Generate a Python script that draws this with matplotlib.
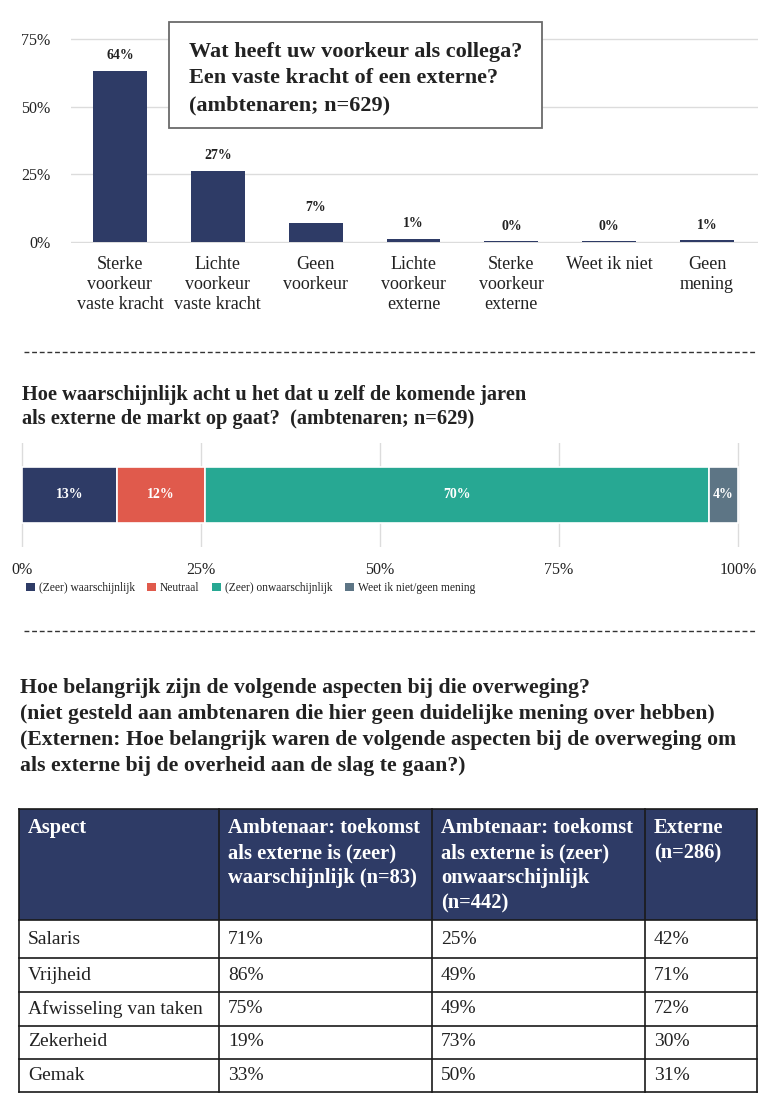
import matplotlib
matplotlib.use("Agg")
import matplotlib.pyplot as plt
from matplotlib.patches import Rectangle, Patch
from matplotlib.lines import Line2D

plt.rcParams['font.family'] = ['Liberation Serif', 'DejaVu Serif']

# ---------------- data ----------------
pref_categories = ["Sterke\nvoorkeur\nvaste kracht", "Lichte\nvoorkeur\nvaste kracht", "Geen\nvoorkeur",
                   "Lichte\nvoorkeur\nexterne", "Sterke\nvoorkeur\nexterne", "Weet ik niet", "Geen\nmening"]
pref_values = [63.3, 26.3, 7.1, 1.1, 0.2, 0.2, 0.6]
pref_labels = ["64%", "27%", "7%", "1%", "0%", "0%", "1%"]
pref_yticks = [0, 25, 50, 75]
pref_title = ["Wat heeft uw voorkeur als collega?", "Een vaste kracht of een externe?", "(ambtenaren; n=629)"]

likely_categories = ["(Zeer) waarschijnlijk", "Neutraal", "(Zeer) onwaarschijnlijk", "Weet ik niet/geen mening"]
likely_values = [13.2, 12.3, 70.4, 4.1]
likely_labels = ["13%", "12%", "70%", "4%"]
likely_xticks = [0, 25, 50, 75, 100]
likely_title = ["Hoe waarschijnlijk acht u het dat u zelf de komende jaren",
                "als externe de markt op gaat?  (ambtenaren; n=629)"]

aspect_title = ["Hoe belangrijk zijn de volgende aspecten bij die overweging?",
                "(niet gesteld aan ambtenaren die hier geen duidelijke mening over hebben)",
                "(Externen: Hoe belangrijk waren de volgende aspecten bij de overweging om",
                "als externe bij de overheid aan de slag te gaan?)"]
table_header = ["Aspect",
                "Ambtenaar: toekomst\nals externe is (zeer)\nwaarschijnlijk (n=83)",
                "Ambtenaar: toekomst\nals externe is (zeer)\nonwaarschijnlijk\n(n=442)",
                "Externe\n(n=286)"]
aspects = ["Salaris", "Vrijheid", "Afwisseling van taken", "Zekerheid", "Gemak"]
col_likely = ["71%", "86%", "75%", "19%", "33%"]
col_unlikely = ["25%", "49%", "49%", "73%", "50%"]
col_externe = ["42%", "71%", "72%", "30%", "31%"]

# ---------------- style ----------------
NAVY = "#2e3b66"
RED = "#e05a4c"
TEAL = "#27a893"
SLATE = "#5d7585"
GRID = "#dcdcdc"
TXT = "#222222"

W, H = 766, 1099
fig = plt.figure(figsize=(W / 100, H / 100), dpi=100)


def px_axes(x0, y0, x1, y1, **kw):
    return fig.add_axes([x0 / W, 1 - y1 / H, (x1 - x0) / W, (y1 - y0) / H], **kw)


def fx(x):
    return x / W


def fy(y):
    return 1 - y / H


# ---------------- chart 1 ----------------
ax1 = px_axes(71, 38, 758, 243)
x = list(range(len(pref_values)))
ax1.bar(x, pref_values, width=0.55, color=NAVY, zorder=3)
ax1.set_xlim(-0.5, 6.52)
ax1.set_ylim(-0.37, 75.37)
ax1.set_yticks(pref_yticks)
ax1.set_yticklabels([f"{t}%" for t in pref_yticks], fontsize=11.5, color=TXT)
ax1.set_xticks(x)
ax1.set_xticklabels(pref_categories, fontsize=13, color=TXT, linespacing=1.22)
ax1.tick_params(axis='y', length=0, pad=15)
ax1.tick_params(axis='x', length=0, pad=9.5)
ax1.yaxis.grid(True, color=GRID, lw=1)
ax1.set_axisbelow(True)
for s in ax1.spines.values():
    s.set_visible(False)
for xi, v, lab in zip(x, pref_values, pref_labels):
    ax1.annotate(lab, (xi, v), xytext=(0, 11), textcoords='offset points',
                 ha='center', va='center', fontsize=10, fontweight='bold', color=TXT)

# title box
fig.patches.append(Rectangle((fx(169), fy(128)), (542 - 169) / W, (128 - 22) / H,
                             transform=fig.transFigure, facecolor='white',
                             edgecolor='#6a6a6a', lw=1.3, zorder=5))
for yy, line in zip([52, 78, 105], pref_title):
    fig.text(fx(189), fy(yy), line, fontsize=16, fontweight='bold', color=TXT,
             ha='left', va='center', zorder=6)

# separators
for yy in [352, 631]:
    fig.lines.append(Line2D([fx(24), fx(756)], [fy(yy), fy(yy)], transform=fig.transFigure,
                            color='#333333', lw=1, dashes=(3.5, 2)))

# ---------------- chart 2 ----------------
for yy, line in zip([395, 419], likely_title):
    fig.text(fx(22), fy(yy), line, fontsize=14.7, fontweight='bold', color=TXT,
             ha='left', va='center')

ax2 = px_axes(19.85, 443, 740.15, 547)
colors2 = [NAVY, RED, TEAL, SLATE]
left = 0
for v, c, lab in zip(likely_values, colors2, likely_labels):
    ax2.barh(0, v, left=left, height=0.54, color=c, edgecolor='white', lw=1.2, zorder=3)
    ax2.text(left + v / 2, 0, lab, ha='center', va='center', color='white',
             fontsize=10, fontweight='bold', zorder=4)
    left += v
ax2.set_xlim(-0.3, 100.3)
ax2.set_ylim(-0.5, 0.5)
ax2.set_yticks([])
ax2.set_xticks(likely_xticks)
ax2.set_xticklabels([f"{t}%" for t in likely_xticks], fontsize=11.5, color=TXT)
ax2.tick_params(axis='x', length=0, pad=11)
ax2.xaxis.grid(True, color=GRID, lw=1)
ax2.set_axisbelow(True)
for s in ax2.spines.values():
    s.set_visible(False)

handles = [Patch(facecolor=c, edgecolor='none', label=l) for c, l in zip(colors2, likely_categories)]
fig.legend(handles=handles, loc='center left', bbox_to_anchor=(fx(26), fy(588)), ncol=4,
           frameon=False, fontsize=8.3, handlelength=0.75, handleheight=0.75,
           handletextpad=0.35, columnspacing=1.1, borderpad=0, borderaxespad=0,
           labelcolor=TXT)

# ---------------- table ----------------
for yy, line in zip([688, 714, 740, 766], aspect_title):
    fig.text(fx(20), fy(yy), line, fontsize=15.7, fontweight='bold', color=TXT,
             ha='left', va='center')

col_edges = [19, 219, 432, 645, 757]
row_edges = [809, 920, 958, 992, 1025.5, 1058.5, 1092]
ax3 = px_axes(0, 0, W, H)
ax3.set_xlim(0, W)
ax3.set_ylim(H, 0)
ax3.axis('off')

ax3.add_patch(Rectangle((col_edges[0], row_edges[0]), col_edges[-1] - col_edges[0],
                        row_edges[1] - row_edges[0], facecolor=NAVY, edgecolor='none'))
for ci, head in enumerate(table_header):
    for li, line in enumerate(head.split("\n")):
        ax3.text(col_edges[ci] + 9, 828 + 25.2 * li, line, ha='left', va='center',
                 fontsize=14.8, fontweight='bold', color='white')

columns = [aspects, col_likely, col_unlikely, col_externe]
for ci, col in enumerate(columns):
    for ri, val in enumerate(col):
        yc = (row_edges[ri + 1] + row_edges[ri + 2]) / 2
        ax3.text(col_edges[ci] + 9, yc, val, ha='left', va='center', fontsize=14, color=TXT)

for xe in col_edges:
    ax3.plot([xe, xe], [row_edges[0], row_edges[-1]], color='#1a1a1a', lw=1.2)
for ye in row_edges:
    ax3.plot([col_edges[0], col_edges[-1]], [ye, ye], color='#1a1a1a', lw=1.2)

fig.savefig("out.png", dpi=100)
